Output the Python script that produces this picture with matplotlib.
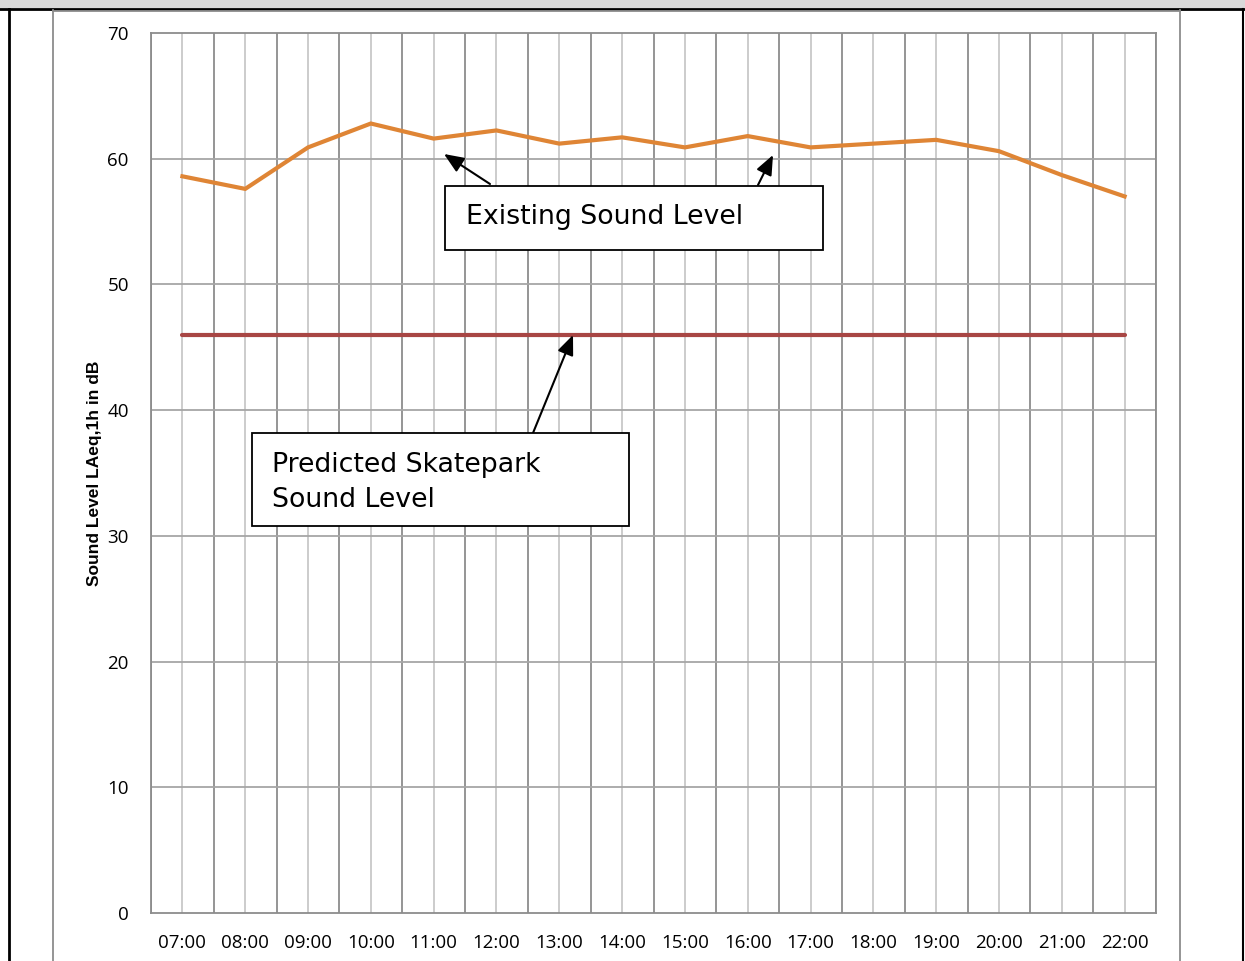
import matplotlib
matplotlib.use("Agg")
from matplotlib import pyplot as plt
from matplotlib.lines import Line2D
from matplotlib.patches import Rectangle

# hourly time labels and sound levels (dB)
hours = ['07:00', '08:00', '09:00', '10:00', '11:00', '12:00', '13:00', '14:00',
         '15:00', '16:00', '17:00', '18:00', '19:00', '20:00', '21:00', '22:00']
existing = [58.6, 57.6, 60.9, 62.8, 61.6, 62.25, 61.2, 61.7,
            60.9, 61.8, 60.9, 61.2, 61.5, 60.6, 58.7, 57.0]
predicted = [46.0] * len(hours)

W, H = 1245, 961
fig = plt.figure(figsize=(W / 100, H / 100), dpi=100)

def fx(px):
    return px / W

def fy(py):
    return 1 - py / H

# page decorations: grey header band, black rules, grey chart frame
fig.add_artist(Rectangle((0, fy(8)), 1, 8 / H, transform=fig.transFigure,
                         facecolor='#d9d9d9', edgecolor='none'))
fig.add_artist(Line2D([0, 1], [fy(9), fy(9)], transform=fig.transFigure, color='black', lw=2))
fig.add_artist(Line2D([fx(9), fx(9)], [0, fy(9)], transform=fig.transFigure, color='black', lw=2))
fig.add_artist(Line2D([fx(1243), fx(1243)], [0, fy(9)], transform=fig.transFigure, color='black', lw=1.5))
fig.add_artist(Line2D([fx(53), fx(53)], [0, fy(10)], transform=fig.transFigure, color='#8c8c8c', lw=1.3))
fig.add_artist(Line2D([fx(1180), fx(1180)], [0, fy(10)], transform=fig.transFigure, color='#8c8c8c', lw=1.3))
fig.add_artist(Line2D([fx(53), fx(1180)], [fy(10.5), fy(10.5)], transform=fig.transFigure, color='#8c8c8c', lw=1.3))

ax = fig.add_axes([fx(151), fy(913), fx(1156) - fx(151), fy(33) - fy(913)])

x = list(range(len(hours)))

# gridlines: darker at category boundaries, lighter at categories
for i in range(len(hours) + 1):
    ax.axvline(i - 0.5, color='#8c8c8c', lw=1.3, zorder=1)
for i in x:
    ax.axvline(i, color='#c8c8c8', lw=1.3, zorder=1)
for v in range(10, 70, 10):
    ax.axhline(v, color='#a6a6a6', lw=1.3, zorder=1)

ax.plot(x, predicted, color='#a84644', lw=3, solid_capstyle='round', zorder=3)
ax.plot(x, existing, color='#df8535', lw=3, solid_joinstyle='miter', zorder=3)

ax.set_xlim(-0.5, len(hours) - 0.5)
ax.set_ylim(0, 70)
ax.set_xticks(x)
ax.set_xticklabels(hours, fontsize=13.5, family='Open Sans')
ax.set_yticks(range(0, 80, 10))
ax.set_yticklabels([str(v) for v in range(0, 80, 10)], fontsize=13.5, family='Open Sans')
ax.tick_params(length=0)
ax.tick_params(axis='x', pad=15)
ax.tick_params(axis='y', pad=16)
for s in ax.spines.values():
    s.set_color('#8c8c8c')
    s.set_linewidth(1.3)

fig.text(fx(94), fy(473), 'Sound Level LAeq,1h in dB', rotation=90, ha='center', va='center',
         fontsize=12.5, fontweight='bold', family='Liberation Sans')

def pxdata(px, py):
    return ax.transData.inverted().transform(fig.transFigure.transform((fx(px), fy(py))))

# annotation boxes
fig.add_artist(Rectangle((fx(445), fy(250)), fx(823) - fx(445), fy(186) - fy(250),
                         transform=fig.transFigure, facecolor='white', edgecolor='black', lw=1.3, zorder=5))
fig.text(fx(466), fy(224), 'Existing Sound Level', fontsize=19.3, family='DejaVu Sans',
         va='baseline', zorder=6)
fig.add_artist(Rectangle((fx(252), fy(526)), fx(629) - fx(252), fy(433) - fy(526),
                         transform=fig.transFigure, facecolor='white', edgecolor='black', lw=1.3, zorder=5))
fig.text(fx(272), fy(472), 'Predicted Skatepark', fontsize=19.3, family='DejaVu Sans',
         va='baseline', zorder=6)
fig.text(fx(272), fy(507), 'Sound Level', fontsize=19.3, family='DejaVu Sans',
         va='baseline', zorder=6)

arrows = [((490, 184), (444, 154)), ((758, 185), (773, 155)), ((533, 433), (573, 335))]
for (tx, ty), (hx, hy) in arrows:
    ax.annotate('', xy=pxdata(hx, hy), xytext=pxdata(tx, ty), xycoords='data', textcoords='data',
                arrowprops=dict(arrowstyle='-|>,head_length=1.2,head_width=0.5', color='black', lw=1.5,
                                shrinkA=0, shrinkB=0),
                annotation_clip=False, zorder=6)

fig.savefig('out.png', dpi=100)
